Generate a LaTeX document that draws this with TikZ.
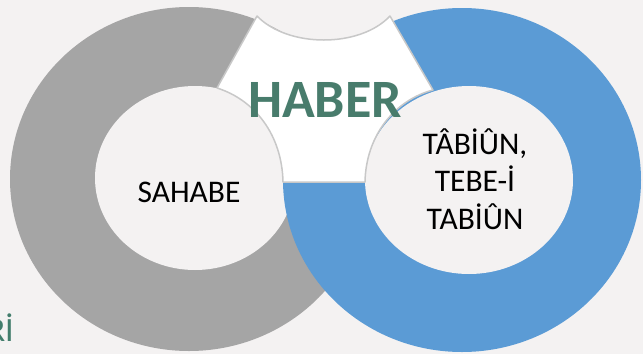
\documentclass[tikz,border=0pt]{standalone}
\usepackage{fontspec}
\setmainfont{Carlito}
\definecolor{ringgray}{RGB}{165,165,165}
\definecolor{ringblue}{RGB}{91,155,213}
\definecolor{pagebg}{RGB}{244,242,242}
\definecolor{habergreen}{RGB}{72,124,108}
\definecolor{titlegreen}{RGB}{66,125,108}
\definecolor{edgegray}{RGB}{200,200,200}
\pgfdeclarelayer{ringlayer}
\pgfdeclarelayer{nodelayer}
\pgfsetlayers{ringlayer,main,nodelayer}
\tikzstyle{hole}=[fill=pagebg]
\tikzstyle{label}=[text=black,inner sep=0pt,align=center,font=\fontsize{31.5}{37.5}\selectfont]

\begin{document}
\begin{tikzpicture}[x=1pt,y=-1pt]
        \useasboundingbox (0,0) rectangle (643,354);
        \begin{pgfonlayer}{ringlayer}
            \fill [pagebg] (0,0) rectangle (643,354);

            \fill [ringgray] (189,179) ellipse [x radius=179pt, y radius=172pt];
            \fill [style = hole] (195,178) ellipse [x radius=100pt, y radius=92pt];

            \fill [ringblue] (462,180) ellipse [x radius=179pt, y radius=172pt];
            \fill [style = hole] (469,180) ellipse [x radius=104pt, y radius=94pt];
        \end{pgfonlayer}

        % middle piece
        \draw [fill=white, draw=edgegray, line width=1.5pt, line join=round]
            (257,16) -- (217,88) .. controls (255,100) and (282,135) .. (283,182)
            -- (365,182) .. controls (366,135) and (395,100) .. (433,90)
            -- (390,16) .. controls (360,48) and (288,48) .. cycle;

        \begin{pgfonlayer}{nodelayer}
            \node [text=habergreen, inner sep=0pt, anchor=base,
                   font=\fontsize{54}{60}\selectfont\bfseries] (haber) at (325,117) {HABER};
            \node [style = label, anchor=base] (sahabe) at (189,202) {SAHABE};
            \node [style = label] (tabiun) at (475,179) {TÂBİÛN,\\TEBE-İ\\TABİÛN};
            \node [text=titlegreen, inner sep=0pt, anchor=base east,
                   font=\fontsize{34}{40}\selectfont] (cornertext) at (14,341) {Rİ};
        \end{pgfonlayer}
\end{tikzpicture}
\end{document}
